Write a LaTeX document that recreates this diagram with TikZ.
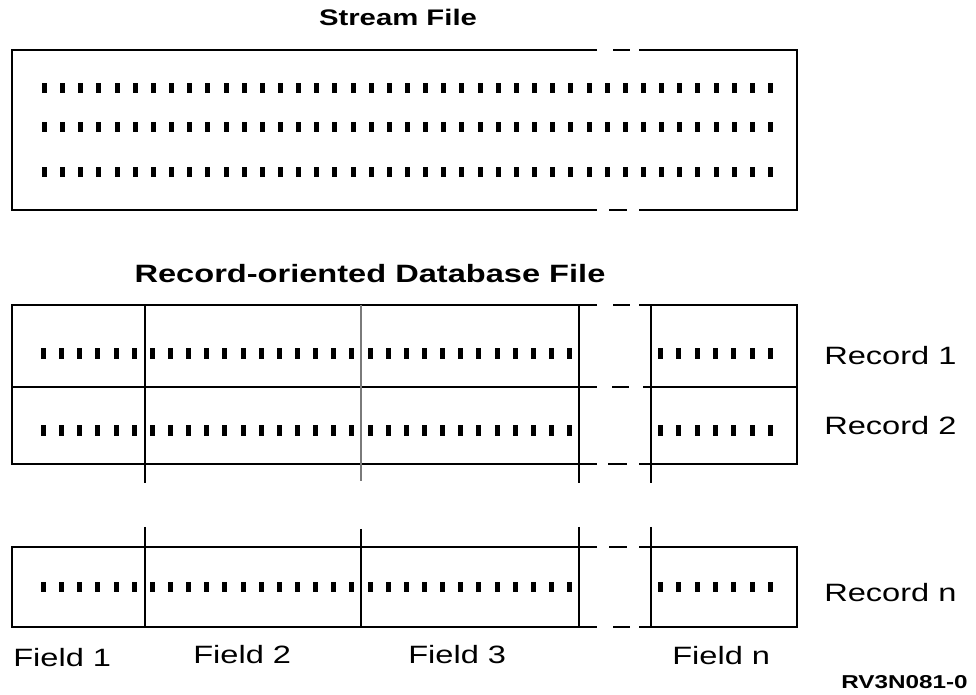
\documentclass[tikz,border=0pt]{standalone}
\usepackage{fontspec}
\setmainfont[FakeStretch=1.3]{Liberation Sans}
\usepackage{tikz}
\usepackage{xcolor}
\usetikzlibrary{positioning}
\definecolor{ink}{HTML}{000000}
\definecolor{faint}{HTML}{7a7a7a}

\tikzset{
  frame/.style={draw=ink, line width=1.5pt},
  thinrule/.style={draw=faint, line width=0.9pt},
  tick/.style={fill=ink},
  label/.style={anchor=base west, inner sep=0pt, font=\fontsize{18.8}{22}\selectfont}
}

\begin{document}
\begin{tikzpicture}[x=0.75pt, y=-0.75pt]
  \useasboundingbox (0,0) rectangle (976,695);

  % titles
  \node[anchor=base, inner sep=0pt, font=\fontsize{16.9}{20}\selectfont\bfseries] (streamtitle) at (398,26) {Stream File};
  \node[anchor=base, inner sep=0pt, font=\fontsize{18.8}{22}\selectfont\bfseries] (dbtitle) at (370,283) {Record-oriented Database File};

  % stream file box, broken near the right end
  \draw[frame] (597,50) -- (12,50) -- (12,210) -- (597,210);
  \draw[frame] (639,50) -- (797,50) -- (797,210) -- (639,210);
  \draw[frame] (613,50) -- (630,50);
  \draw[frame] (609,210) -- (627,210);
  \foreach \y in {83,122,167}
    \foreach \i in {0,...,40}
      \fill[tick] ({44.5+18.15*\i-2.5},\y) rectangle ++(5,10);

  % records 1 and 2
  \draw[frame] (597,305) -- (12,305) -- (12,464) -- (597,464);
  \draw[frame] (639,305) -- (797,305) -- (797,464) -- (639,464);
  \draw[frame] (12,387) -- (597,387);
  \draw[frame] (643,387) -- (798,387);
  \draw[frame] (613,305) -- (630,305);
  \draw[frame] (612,387) -- (629,387);
  \draw[frame] (608,464) -- (627,464);
  \draw[frame] (145,305) -- (145,483);
  \draw[thinrule] (361,305) -- (361,481);
  \draw[frame] (579,305) -- (579,483);
  \draw[frame] (651,305) -- (651,483);
  \foreach \y in {348,425} {
    \foreach \i in {0,...,29}
      \fill[tick] ({43.5+18.14*\i-2.5},\y) rectangle ++(5,11);
    \foreach \i in {0,...,6}
      \fill[tick] ({660.5+18.33*\i-2.5},\y) rectangle ++(5,11);
  }

  % record n
  \draw[frame] (597,547) -- (12,547) -- (12,627) -- (597,627);
  \draw[frame] (639,547) -- (797,547) -- (797,627) -- (639,627);
  \draw[frame] (609,547) -- (627,547);
  \draw[frame] (613,627) -- (630,627);
  \draw[frame] (145,527) -- (145,627);
  \draw[frame] (361,529) -- (361,627);
  \draw[frame] (579,527) -- (579,627);
  \draw[frame] (651,527) -- (651,627);
  \foreach \i in {0,...,29}
    \fill[tick] ({43.5+18.14*\i-2.5},582) rectangle ++(5,10);
  \foreach \i in {0,...,6}
    \fill[tick] ({660.5+18.33*\i-2.5},582) rectangle ++(5,10);

  % record labels
  \node[label] (rec1) at (824,365) {Record 1};
  \node[label] (rec2) at (824,435) {Record 2};
  \node[label] (recn) at (824,601) {Record n};

  % field labels
  \node[label] (field1) at (13,667) {Field 1};
  \node[label] (field2) at (193,663) {Field 2};
  \node[label] (field3) at (408,663) {Field 3};
  \node[label] (fieldn) at (672,664) {Field n};

  \node[anchor=base east, inner sep=0pt, font=\fontsize{14}{16}\selectfont\bfseries] (figid) at (968,688) {RV3N081-0};
\end{tikzpicture}
\end{document}
